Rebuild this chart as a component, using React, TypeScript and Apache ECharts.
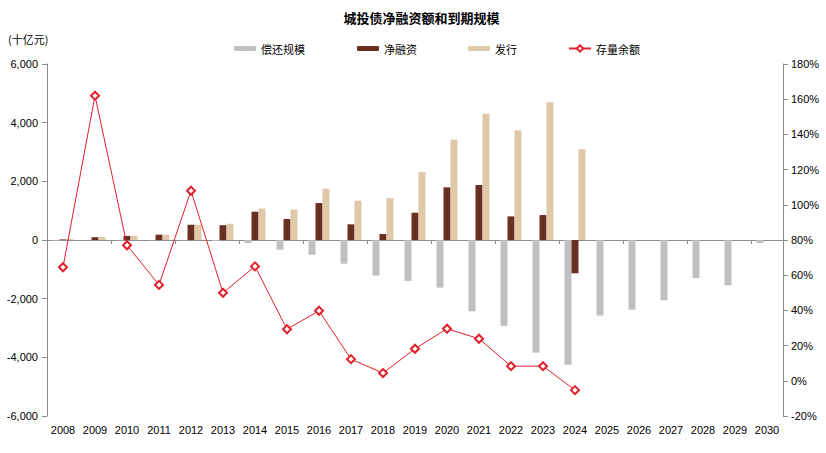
import React, { useEffect, useRef } from "react";
import * as echarts from "echarts";

const years = ["2008","2009","2010","2011","2012","2013","2014","2015","2016","2017","2018","2019","2020","2021","2022","2023","2024","2025","2026","2027","2028","2029","2030"];
const repayment = [-20, -5, -10, -10, -10, -35, -100, -330, -500, -810, -1215, -1400, -1625, -2430, -2930, -3840, -4260, -2580, -2375, -2055, -1295, -1545, -100];
const netFinancing = [20, 95, 140, 180, 520, 505, 965, 715, 1260, 535, 205, 930, 1795, 1875, 805, 850, -1135, null, null, null, null, null, null];
const issuance = [40, 100, 140, 180, 520, 555, 1070, 1035, 1750, 1340, 1430, 2320, 3420, 4305, 3740, 4700, 3100, null, null, null, null, null, null];
const balanceGrowth = [64.5, 162, 77, 54.5, 108, 50, 65, 29.3, 39.8, 12.3, 4.4, 18.2, 29.6, 23.9, 8.3, 8.3, -5.3, null, null, null, null, null, null];

const CJK = '"Noto Sans CJK SC", sans-serif';
const LAT = '"Liberation Sans", Arial, sans-serif';

export default function App() {
  const ref = useRef<HTMLDivElement>(null);
  useEffect(() => {
    if (!ref.current) return;
    const chart = echarts.init(ref.current, null, { renderer: "svg" });
    const axisGray = "#8c8c8c";
    const legendBase = {
      top: 38,
      itemWidth: 22,
      itemHeight: 5,
      textStyle: { fontFamily: CJK, fontSize: 11, color: "#000" },
      selectedMode: false as const,
    };
    chart.setOption({
      animation: false,
      graphic: [
        {
          type: "text",
          x: 421.5,
          y: 17,
          style: {
            text: "城投债净融资额和到期规模",
            fontFamily: CJK,
            fontSize: 13,
            fontWeight: "bold",
            fill: "#000",
            align: "center",
            verticalAlign: "middle",
          },
        },
        {
          type: "text",
          x: 8,
          y: 39,
          style: {
            text: "(十亿元)",
            fontFamily: CJK,
            fontSize: 11,
            fill: "#000",
            align: "left",
            verticalAlign: "middle",
          },
        },
      ],
      legend: [
        { ...legendBase, left: 229, data: ["偿还规模"] },
        { ...legendBase, left: 352, data: ["净融资"] },
        { ...legendBase, left: 463, data: ["发行"] },
        { ...legendBase, left: 563, itemHeight: 8, data: ["存量余额"] },
      ],
      grid: { left: 47, right: 43, top: 64, bottom: 37, containLabel: false },
      xAxis: [
        {
          type: "category",
          data: years,
          position: "bottom",
          axisLine: { show: false, onZero: false },
          axisTick: { show: false },
          axisLabel: { fontFamily: LAT, fontSize: 11, color: "#000", margin: 8, interval: 0 },
        },
        {
          type: "category",
          data: years,
          position: "bottom",
          axisLine: { show: true, onZero: true, lineStyle: { color: axisGray, width: 1 } },
          axisTick: { show: true, length: 4, lineStyle: { color: axisGray } },
          axisLabel: { show: false },
        },
      ],
      yAxis: [
        {
          type: "value",
          min: -6000,
          max: 6000,
          interval: 2000,
          position: "left",
          splitLine: { show: false },
          axisLine: { show: true, lineStyle: { color: axisGray } },
          axisTick: { show: true, length: 5, lineStyle: { color: axisGray } },
          axisLabel: {
            fontFamily: LAT,
            fontSize: 11,
            color: "#000",
            margin: 9,
            formatter: (v: number) => (v < 0 ? "-" : "") + Math.abs(v).toLocaleString("en-US"),
          },
        },
        {
          type: "value",
          min: -20,
          max: 180,
          interval: 20,
          position: "right",
          splitLine: { show: false },
          axisLine: { show: true, lineStyle: { color: axisGray } },
          axisTick: { show: true, length: 5, lineStyle: { color: axisGray } },
          axisLabel: {
            fontFamily: LAT,
            fontSize: 11,
            color: "#000",
            margin: 8,
            formatter: (v: number) => v + "%",
          },
        },
      ],
      series: [
        {
          name: "偿还规模",
          type: "bar",
          xAxisIndex: 0,
          yAxisIndex: 0,
          data: repayment,
          barWidth: 7,
          barGap: "0%",
          itemStyle: { color: "#C0C0C2" },
        },
        {
          name: "净融资",
          type: "bar",
          xAxisIndex: 0,
          yAxisIndex: 0,
          data: netFinancing,
          barWidth: 7,
          barGap: "0%",
          itemStyle: { color: "#6B2E22" },
        },
        {
          name: "发行",
          type: "bar",
          xAxisIndex: 0,
          yAxisIndex: 0,
          data: issuance,
          barWidth: 7,
          barGap: "0%",
          itemStyle: { color: "#DFC9A9" },
        },
        {
          name: "存量余额",
          type: "line",
          xAxisIndex: 0,
          yAxisIndex: 1,
          data: balanceGrowth,
          symbol: "emptyDiamond",
          symbolSize: 8,
          lineStyle: { color: "#E0202A", width: 1 },
          itemStyle: { color: "#E0202A", borderWidth: 1 },
          z: 5,
        },
      ],
    });
    return () => chart.dispose();
  }, []);
  return <div ref={ref} style={{ position: "absolute", left: 0, top: 0, width: 826, height: 453 }} />;
}
